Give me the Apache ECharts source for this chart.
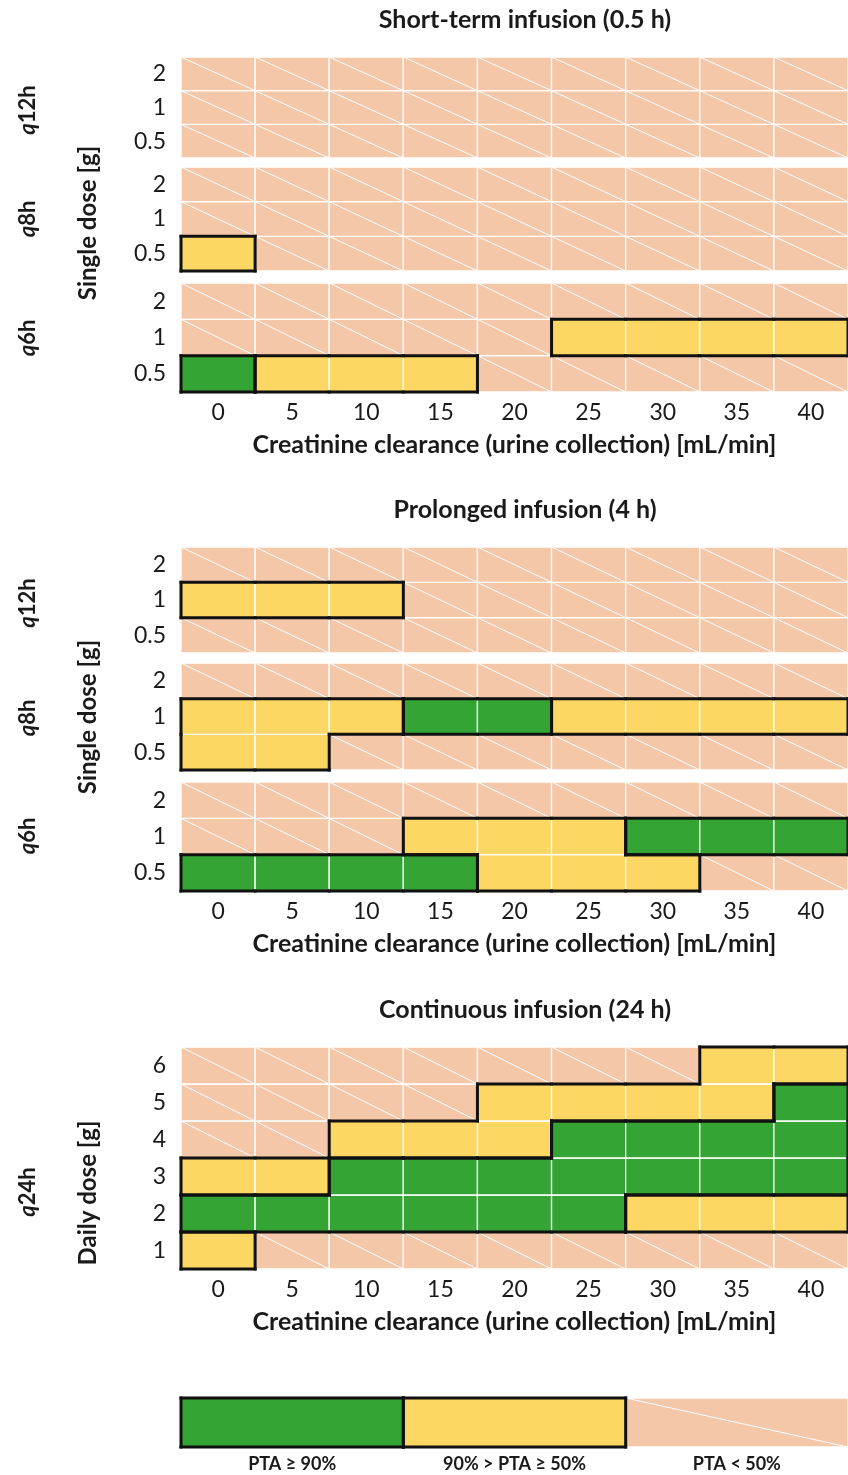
<!DOCTYPE html>
<html>
<head>
<meta charset="utf-8">
<script src="https://cdn.jsdelivr.net/npm/echarts@6/dist/echarts.min.js"></script>
<style>
html, body { margin: 0; padding: 0; background: #fff; }
#main { width: 848px; height: 1475px; }
</style>
</head>
<body>
<div id="main"></div>
<script>
const clearance = ['0', '5', '10', '15', '20', '25', '30', '35', '40']
const singleDose = ['0.5', '1', '2']
const dailyDose = ['1', '2', '3', '4', '5', '6']
const legendLabels = ['PTA ≥ 90%', '90% > PTA ≥ 50%', 'PTA < 50%']

// 0 = PTA < 50%, 1 = 90% > PTA ≥ 50%, 2 = PTA ≥ 90%
// one row per dose (lowest dose first), columns follow clearance
const shortQ12h = [
  [0, 0, 0, 0, 0, 0, 0, 0, 0],
  [0, 0, 0, 0, 0, 0, 0, 0, 0],
  [0, 0, 0, 0, 0, 0, 0, 0, 0]
]
const shortQ8h = [
  [1, 0, 0, 0, 0, 0, 0, 0, 0],
  [0, 0, 0, 0, 0, 0, 0, 0, 0],
  [0, 0, 0, 0, 0, 0, 0, 0, 0]
]
const shortQ6h = [
  [2, 1, 1, 1, 0, 0, 0, 0, 0],
  [0, 0, 0, 0, 0, 1, 1, 1, 1],
  [0, 0, 0, 0, 0, 0, 0, 0, 0]
]
const prolongedQ12h = [
  [0, 0, 0, 0, 0, 0, 0, 0, 0],
  [1, 1, 1, 0, 0, 0, 0, 0, 0],
  [0, 0, 0, 0, 0, 0, 0, 0, 0]
]
const prolongedQ8h = [
  [1, 1, 0, 0, 0, 0, 0, 0, 0],
  [1, 1, 1, 2, 2, 1, 1, 1, 1],
  [0, 0, 0, 0, 0, 0, 0, 0, 0]
]
const prolongedQ6h = [
  [2, 2, 2, 2, 1, 1, 1, 0, 0],
  [0, 0, 0, 1, 1, 1, 2, 2, 2],
  [0, 0, 0, 0, 0, 0, 0, 0, 0]
]
const continuousQ24h = [
  [1, 0, 0, 0, 0, 0, 0, 0, 0],
  [2, 2, 2, 2, 2, 2, 1, 1, 1],
  [1, 1, 2, 2, 2, 2, 2, 2, 2],
  [0, 0, 1, 1, 1, 2, 2, 2, 2],
  [0, 0, 0, 0, 1, 1, 1, 1, 2],
  [0, 0, 0, 0, 0, 0, 0, 1, 1]
]
const legendRow = [[2, 1, 0]]

const fills = ['#F4C7A9', '#FDD764', '#34A435']
const FONT = 'Lato'
const INK = '#1a1a1a'

// draws one cell; black edge where a coloured cell meets a different value
function cellRenderer (rows) {
  const at = (c, r) => (rows[r] && rows[r][c] !== undefined) ? rows[r][c] : -1
  return function (params, api) {
    const xi = api.value(0)
    const yi = api.value(1)
    const v = api.value(2)
    const p = api.coord([xi, yi])
    const s = api.size([1, 1])
    const x0 = p[0] - s[0] / 2
    const y0 = p[1] - s[1] / 2
    const x1 = x0 + s[0]
    const y1 = y0 + s[1]
    const children = [{
      type: 'rect',
      shape: { x: x0, y: y0, width: s[0], height: s[1] },
      style: { fill: fills[v], stroke: '#fff', lineWidth: 1.3 }
    }]
    if (v === 0) {
      children.push({
        type: 'line',
        shape: { x1: x0, y1: y0, x2: x1, y2: y1 },
        style: { stroke: '#fff', lineWidth: 1 }
      })
    } else {
      const edges = [
        [at(xi, yi + 1), x0, y0, x1, y0],
        [at(xi, yi - 1), x0, y1, x1, y1],
        [at(xi - 1, yi), x0, y0, x0, y1],
        [at(xi + 1, yi), x1, y0, x1, y1]
      ]
      edges.forEach(e => {
        if (e[0] !== v) {
          children.push({
            type: 'line',
            z2: 10,
            shape: { x1: e[1], y1: e[2], x2: e[3], y2: e[4] },
            style: { stroke: '#111', lineWidth: 3, lineCap: 'square' }
          })
        }
      })
    }
    return { type: 'group', children }
  }
}

const blocks = [
  { rows: shortQ12h, dose: singleDose, top: 57, height: 101 },
  { rows: shortQ8h, dose: singleDose, top: 167, height: 104 },
  { rows: shortQ6h, dose: singleDose, top: 283, height: 109, axis: true },
  { rows: prolongedQ12h, dose: singleDose, top: 547, height: 106 },
  { rows: prolongedQ8h, dose: singleDose, top: 663, height: 107 },
  { rows: prolongedQ6h, dose: singleDose, top: 782, height: 109, axis: true },
  { rows: continuousQ24h, dose: dailyDose, top: 1047, height: 222, axis: true },
  { rows: legendRow, dose: [''], top: 1398, height: 49, legend: true }
]

const grid = []
const xAxis = []
const yAxis = []
const series = []
blocks.forEach((b, i) => {
  grid.push({ left: 181, top: b.top, height: b.height, width: b.legend ? 672 : 670 })
  xAxis.push({
    type: 'category',
    gridIndex: i,
    data: b.legend ? legendLabels : clearance,
    axisLine: { show: false },
    axisTick: { show: false },
    splitLine: { show: false },
    axisLabel: b.legend
      ? { show: true, margin: 8, fontFamily: FONT, fontSize: 18, fontWeight: 'bold', color: INK }
      : { show: !!b.axis, margin: 9, fontFamily: FONT, fontSize: 23, color: INK },
    name: b.axis ? 'Creatinine clearance (urine collection) [mL/min]' : '',
    nameLocation: 'middle',
    nameGap: 40,
    nameTextStyle: { fontFamily: FONT, fontSize: 25, fontWeight: 'bold', color: INK }
  })
  yAxis.push({
    type: 'category',
    gridIndex: i,
    data: b.dose,
    axisLine: { show: false },
    axisTick: { show: false },
    splitLine: { show: false },
    axisLabel: { margin: 15, fontFamily: FONT, fontSize: 23, color: INK }
  })
  const data = []
  b.rows.forEach((row, r) => row.forEach((v, c) => data.push([c, r, v])))
  series.push({
    type: 'custom',
    xAxisIndex: i,
    yAxisIndex: i,
    encode: { x: 0, y: 1 },
    renderItem: cellRenderer(b.rows),
    data
  })
})

function text (str, x, y, size, rotate) {
  return {
    type: 'text',
    x,
    y,
    rotation: rotate ? Math.PI / 2 : 0,
    style: {
      text: str,
      fontFamily: FONT,
      fontSize: size,
      fontWeight: 'bold',
      fill: INK,
      align: 'center',
      verticalAlign: 'middle'
    }
  }
}
function group (name, x, y) {
  const t = text('{i|q}' + name.slice(1), x, y, 22, true)
  t.style.rich = { i: { fontStyle: 'italic', fontWeight: 'bold', fontFamily: FONT, fontSize: 22, fill: INK } }
  return t
}

const graphic = [
  text('Short-term infusion (0.5 h)', 525, 20, 25),
  text('Prolonged infusion (4 h)', 525, 510, 25),
  text('Continuous infusion (24 h)', 525, 1010, 25),
  text('Single dose [g]', 88, 223, 24, true),
  text('Single dose [g]', 88, 717, 24, true),
  text('Daily dose [g]', 88, 1193, 24, true),
  group('q12h', 28, 110),
  group('q8h', 28, 219),
  group('q6h', 28, 338),
  group('q12h', 28, 603),
  group('q8h', 28, 718),
  group('q6h', 28, 836),
  group('q24h', 28, 1192)
]

const myChart = echarts.init(document.getElementById('main'))
const option = {
  animation: false,
  backgroundColor: '#fff',
  grid,
  xAxis,
  yAxis,
  series,
  graphic
}
option && myChart.setOption(option)
</script>
</body>
</html>
